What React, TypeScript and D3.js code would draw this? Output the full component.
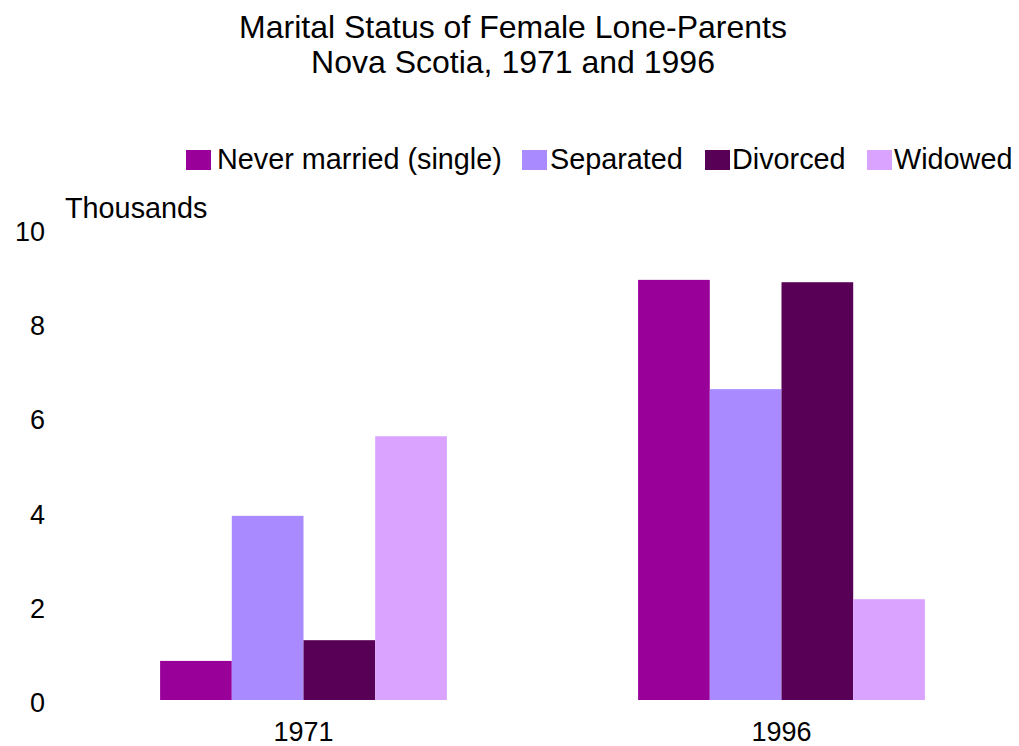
import React from "react";
import * as d3 from "d3";

const years = ["1971", "1996"];
const series = ["Never married (single)", "Separated", "Divorced", "Widowed"];
const neverMarried = [0.83, 8.92];
const separated = [3.91, 6.6];
const divorced = [1.27, 8.87];
const widowed = [5.6, 2.14];
const yTicks = [0, 2, 4, 6, 8, 10];

const colors = ["#990099", "#a98bff", "#580055", "#d9a3ff"];
const FONT = "'Liberation Sans', Arial, sans-serif";

const WIDTH = 1019;
const HEIGHT = 746;

export default function App() {
  const values = [neverMarried, separated, divorced, widowed];

  const x0 = d3.scaleBand().domain(years).range([64.5, 1020.5]).padding(0);
  const bw = x0.bandwidth();
  const x1 = d3
    .scaleBand()
    .domain(series)
    .range([bw * 0.2, bw * 0.8])
    .padding(0);
  const y = d3.scaleLinear().domain([0, 10]).range([700, 229]);

  // legend layout: square x, text x
  const legend = [
    { sq: 186, tx: 217 },
    { sq: 522, tx: 550 },
    { sq: 705, tx: 732 },
    { sq: 867, tx: 894 },
  ];

  return (
    <svg
      width={WIDTH}
      height={HEIGHT}
      style={{ position: "absolute", left: 0, top: 0, background: "#fff" }}
      fontFamily={FONT}
    >
      <text x={513} y={38} textAnchor="middle" fontSize={32} fill="#000">
        Marital Status of Female Lone-Parents
      </text>
      <text x={513} y={73} textAnchor="middle" fontSize={32} fill="#000">
        Nova Scotia, 1971 and 1996
      </text>

      {series.map((s, i) => (
        <g key={s}>
          <rect x={legend[i].sq} y={150} width={25} height={20} fill={colors[i]} />
          <text x={legend[i].tx} y={169} fontSize={28.8} fill="#000">
            {s}
          </text>
        </g>
      ))}

      <text x={65} y={218} fontSize={28.8} fill="#000">
        Thousands
      </text>

      {yTicks.map((t) => (
        <text
          key={t}
          x={45}
          y={y(t) + 12}
          textAnchor="end"
          fontSize={27}
          fill="#000"
        >
          {t}
        </text>
      ))}

      {years.map((yr, j) => (
        <g key={yr} transform={`translate(${x0(yr)},0)`}>
          {series.map((s, i) => (
            <rect
              key={s}
              x={x1(s)}
              y={y(values[i][j])}
              width={x1.bandwidth()}
              height={y(0) - y(values[i][j])}
              fill={colors[i]}
            />
          ))}
          <text
            x={bw / 2}
            y={741}
            textAnchor="middle"
            fontSize={27}
            fill="#000"
          >
            {yr}
          </text>
        </g>
      ))}
    </svg>
  );
}
